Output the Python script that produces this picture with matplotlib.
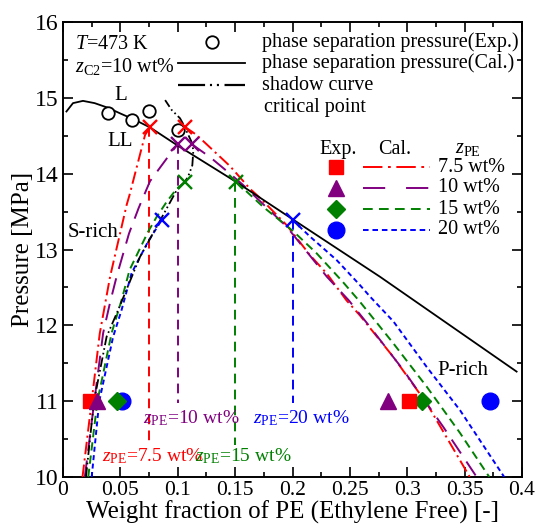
import matplotlib
matplotlib.use("Agg")
import matplotlib.pyplot as plt
from matplotlib.ticker import MultipleLocator, FuncFormatter

plt.rcParams['font.family'] = ['Liberation Serif', 'DejaVu Serif']
plt.rcParams['mathtext.fontset'] = 'custom'
plt.rcParams['mathtext.rm'] = 'Liberation Serif'
plt.rcParams['mathtext.it'] = 'Liberation Serif:italic'
plt.rcParams['lines.scale_dashes'] = False

# ---------------- data ----------------
# phase separation pressure (Exp.)
exp_x = [0.039, 0.060, 0.075, 0.100]
exp_p = [14.80, 14.71, 14.83, 14.58]

# phase separation pressure (Cal.)
cal_x = [0.003, 0.0087, 0.0174, 0.0276, 0.039, 0.0505, 0.0625, 0.0758, 0.100, 0.151, 0.200, 0.2763, 0.3953]
cal_p = [14.82, 14.93, 14.96, 14.93, 14.87, 14.79, 14.71, 14.61, 14.37, 13.89, 13.40, 12.64, 11.39]

# shadow curve
sh_x = [0.020, 0.027, 0.038, 0.048, 0.067, 0.086, 0.099, 0.106, 0.109, 0.1127, 0.1136, 0.112, 0.108, 0.106, 0.102, 0.0947, 0.089]
sh_p = [10.00, 11.00, 11.85, 12.20, 12.90, 13.42, 13.78, 13.89, 13.96, 14.11, 14.31, 14.42, 14.55, 14.62, 14.73, 14.84, 14.97]

# feed compositions
z_pe = [0.075, 0.10, 0.15, 0.20]
z_labels = ['7.5 wt%', '10 wt%', '15 wt%', '20 wt%']

# calculated coexistence curves (S-rich branch / P-rich branch)
s75_x = [0.017, 0.025, 0.032, 0.041, 0.0497, 0.0555, 0.058, 0.0715, 0.0758]
s75_p = [10.00, 11.00, 11.89, 12.64, 13.21, 13.59, 13.72, 14.51, 14.61]
p75_x = [0.106, 0.1165, 0.1455, 0.163, 0.1717, 0.195, 0.215, 0.230, 0.247, 0.2588, 0.288, 0.317, 0.3545]
p75_p = [14.62, 14.51, 14.10, 13.80, 13.68, 13.32, 12.93, 12.68, 12.33, 12.13, 11.58, 10.97, 10.00]

s10_x = [0.019, 0.0273, 0.035, 0.041, 0.047, 0.0575, 0.066, 0.0758, 0.0904, 0.100]
s10_p = [10.00, 11.00, 11.90, 12.30, 12.66, 13.21, 13.55, 13.90, 14.20, 14.39]
p10_x = [0.112, 0.128, 0.1455, 0.157, 0.195, 0.230, 0.249, 0.2675, 0.2966, 0.3314, 0.3605]
p10_p = [14.39, 14.22, 14.00, 13.85, 13.30, 12.64, 12.33, 11.98, 11.41, 10.66, 10.00]

s15_x = [0.022, 0.030, 0.0424, 0.051, 0.058, 0.074, 0.0816, 0.0904, 0.099, 0.106]
s15_p = [10.00, 11.00, 11.90, 12.33, 12.73, 13.23, 13.43, 13.63, 13.80, 13.89]
p15_x = [0.151, 0.1746, 0.2007, 0.221, 0.244, 0.2588, 0.288, 0.317, 0.346, 0.3715]
p15_p = [13.89, 13.56, 13.24, 12.95, 12.57, 12.31, 11.76, 11.19, 10.58, 10.00]

s20_x = [0.025, 0.0316, 0.0437, 0.051, 0.0598, 0.074, 0.086]
s20_p = [10.00, 11.00, 11.85, 12.20, 12.69, 13.10, 13.39]
p20_x = [0.200, 0.2153, 0.2385, 0.2588, 0.2675, 0.288, 0.317, 0.346, 0.3845]
p20_p = [13.39, 13.17, 12.86, 12.53, 12.38, 12.05, 11.45, 10.88, 10.00]

# critical points (crosses)
crit_x = [[0.0758, 0.106], [0.100, 0.112], [0.106, 0.151], [0.086, 0.200]]
crit_p = [14.61, 14.39, 13.89, 13.39]
# bottom ends of the vertical feed lines
vline_end = [10.42, 10.97, 10.42, 10.97]

# experimental coexisting compositions at 11 MPa
exp_pt_p = 11.0
exp75_x = [0.0235, 0.3018]
exp10_x = [0.0293, 0.2836]
exp15_x = [0.0468, 0.3126]
exp20_x = [0.0511, 0.3720]

# ---------------- styles ----------------
colors = ['#ff0000', '#800080', '#008000', '#0000ff']
dashes = [(0, (9, 3, 1.5, 3)), (0, (12, 7)), (0, (6, 3.6)), (0, (3.6, 2.5))]
leg_dashes = [(0, (14, 4, 2, 4)), (0, (16, 15)), (0, (7, 4.5)), (0, (4, 2.8))]
markers = ['s', '^', 'D', 'o']
msizes = [10, 11, 9, 12]
shadow_ls = (0, (7, 2.2, 1.2, 2.2, 1.2, 2.2))
vline_ls = (0, (7, 4.5))

fig = plt.figure(figsize=(5.37, 5.27), dpi=100)
ax = fig.add_axes([63/537, 1-477/527, 459/537, 455/527])

s_x = [s75_x, s10_x, s15_x, s20_x]
s_p = [s75_p, s10_p, s15_p, s20_p]
p_x = [p75_x, p10_x, p15_x, p20_x]
p_p = [p75_p, p10_p, p15_p, p20_p]
e_x = [exp75_x, exp10_x, exp15_x, exp20_x]

LW = 1.4
for i in range(4):
    ax.plot(s_x[i], s_p[i], color=colors[i], lw=LW, linestyle=dashes[i], zorder=3)
    ax.plot(p_x[i], p_p[i], color=colors[i], lw=LW, linestyle=dashes[i], zorder=3)
    ax.plot([z_pe[i], z_pe[i]], [crit_p[i], vline_end[i]], color=colors[i], lw=LW,
            linestyle=vline_ls, zorder=2)

ax.plot(cal_x, cal_p, color='black', lw=1.3, zorder=4)
ax.plot(sh_x, sh_p, color='black', lw=1.3, linestyle=shadow_ls, zorder=4)
ax.plot(exp_x, exp_p, linestyle='none', marker='o', ms=9, mfc='white', mec='black', mew=1.3, zorder=6)

for i in range(4):
    ax.plot(crit_x[i], [crit_p[i]] * 2, linestyle='none', marker='x', ms=10, mew=1.7,
            color=colors[i], zorder=7)

# experimental colored points (draw blue before green, red before purple)
order = [3, 2, 0, 1]
for i in order:
    ax.plot(e_x[i], [exp_pt_p] * 2, linestyle='none', marker=markers[i], ms=msizes[i],
            color=colors[i], mec=colors[i], zorder=8)

# axes
ax.set_xlim(0, 0.4)
ax.set_ylim(10, 16)
ax.xaxis.set_major_locator(MultipleLocator(0.05))
ax.xaxis.set_minor_locator(MultipleLocator(0.025))
ax.yaxis.set_major_locator(MultipleLocator(1))
ax.yaxis.set_minor_locator(MultipleLocator(0.5))
ax.xaxis.set_major_formatter(FuncFormatter(lambda v, p: '0' if abs(v) < 1e-9 else ('%g' % round(v, 3))))
ax.tick_params(which='both', direction='in', top=True, right=True, width=1.2)
ax.tick_params(which='major', length=7, pad=3)
ax.tick_params(axis='x', which='major', labelsize=15.5)
ax.tick_params(axis='y', which='major', labelsize=17)
ax.tick_params(which='minor', length=3.5)
for s in ax.spines.values():
    s.set_linewidth(1.4)
ax.set_xlabel('Weight fraction of PE (Ethylene Free) [-]', fontsize=18, labelpad=0)
ax.set_ylabel('Pressure [MPa]', fontsize=18, labelpad=1)

# annotations
ax.text(0.050, 15.03, 'L', fontsize=15, ha='center', va='center')
ax.text(0.050, 14.42, 'LL', fontsize=15, ha='center', va='center')
ax.text(0.004, 13.23, 'S-rich', fontsize=15, ha='left', va='center')
ax.text(0.3486, 11.41, 'P-rich', fontsize=15, ha='center', va='center')

zl_x = [0.034, 0.0697, 0.115, 0.1656]
zl_p = [10.28, 10.78, 10.28, 10.78]
for i in range(4):
    ax.text(zl_x[i], zl_p[i], r'$z_{\rm PE}$=' + z_labels[i], color=colors[i], fontsize=14,
            ha='left', va='center')

# top legend (manual)
T = ax.transAxes
ax.text(0.026, 0.950, r'$T$=473 K', transform=T, fontsize=14.5, ha='left', va='center')
ax.text(0.026, 0.902, r'$z_{\rm C2}$=10 wt%', transform=T, fontsize=14.5, ha='left', va='center')
ax.plot([0.3246], [0.956], transform=T, marker='o', ms=9, mfc='white', mec='black', mew=1.3, ls='none')
ax.plot([0.2505, 0.3965], [0.9099, 0.9099], transform=T, color='black', lw=1.3)
ax.plot([0.2505, 0.3965], [0.8615, 0.8615], transform=T, color='black', lw=1.6,
        linestyle=(0, (19.5, 3.5, 1.5, 3.5, 1.5, 4)))
leg_txt = ['phase separation pressure(Exp.)', 'phase separation pressure(Cal.)', 'shadow curve']
leg_y = [0.956, 0.9099, 0.8615]
for t, y in zip(leg_txt, leg_y):
    ax.text(0.4336, y, t, transform=T, fontsize=14.5, ha='left', va='center')
ax.text(0.438, 0.811, 'critical point', transform=T, fontsize=14.5, ha='left', va='center')

# composition legend (manual)
ax.text(0.599, 0.7187, 'Exp.', transform=T, fontsize=14.5, ha='center', va='center')
ax.text(0.7233, 0.7187, 'Cal.', transform=T, fontsize=14.5, ha='center', va='center')
ax.text(0.8824, 0.723, r'$z_{\rm PE}$', transform=T, fontsize=14.5, ha='center', va='center')
ly = [0.6813, 0.6352, 0.589, 0.5429]
for i in range(4):
    ax.plot([0.5948], [ly[i]], transform=T, marker=markers[i], ms=msizes[i], color=colors[i], ls='none')
    ax.plot([0.6536, 0.7996], [ly[i]] * 2, transform=T, color=colors[i], lw=LW, linestyle=leg_dashes[i])
    ax.text(0.817, ly[i], z_labels[i], transform=T, fontsize=14.5, ha='left', va='center')

fig.savefig('out.png', dpi=100)
